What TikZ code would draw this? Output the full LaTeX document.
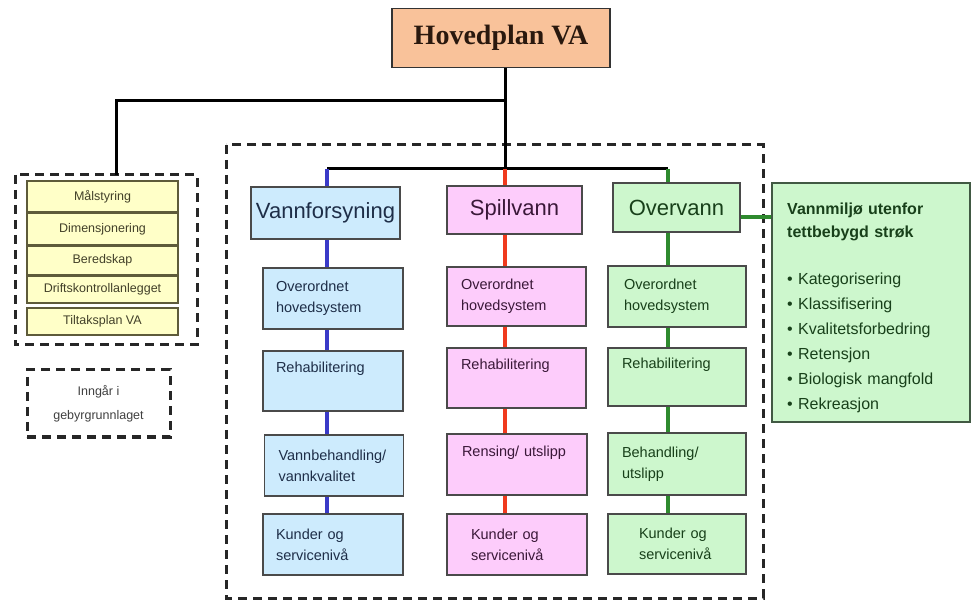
\documentclass[tikz,border=0pt]{standalone}
\usepackage{fontspec}
\setmainfont{Liberation Sans}
\newfontfamily\titlefont{Liberation Serif}
\definecolor{peach}{HTML}{F9C29A}
\definecolor{bluefill}{HTML}{CDEBFD}
\definecolor{pinkfill}{HTML}{FDCCFB}
\definecolor{greenfill}{HTML}{CDF7CD}
\definecolor{yelfill}{HTML}{FFFFC8}
\definecolor{yelline}{HTML}{5E5B3A}
\definecolor{boxline}{HTML}{4A4A4A}
\definecolor{bluetxt}{HTML}{1E2E48}
\definecolor{pinktxt}{HTML}{3A1838}
\definecolor{greentxt}{HTML}{18401A}
\definecolor{bluecon}{HTML}{3A3AC8}
\definecolor{redcon}{HTML}{F03A1E}
\definecolor{greencon}{HTML}{2E8A2E}
\definecolor{titletxt}{HTML}{2A180E}
\tikzset{
  x=1pt, y=-1pt,
  cbox/.style={draw=boxline, line width=1.8pt, rectangle, inner ysep=0pt},
  hdr/.style={cbox, font=\fontsize{22}{24}\selectfont, align=center},
  sub/.style={cbox, font=\fontsize{14.5}{21}\selectfont, align=left},
  ybox/.style={draw=yelline, fill=yelfill, line width=2.2pt, minimum width=151pt, inner sep=0pt,
     font=\fontsize{12.5}{14}\selectfont, text=yelline!70!black, align=center},
  dashbox/.style={draw=black!85, line width=3pt, dash pattern=on 9pt off 6pt},
  bcon/.style={draw=bluecon, line width=3.2pt},
  rcon/.style={draw=redcon, line width=3.2pt},
  gcon/.style={draw=greencon, line width=3.2pt},
  kcon/.style={draw=black, line width=3pt},
}
\newcommand{\subnode}[8]{% name, cx, cy, w, h, inset, style, text
  \node[sub, #7, minimum height=#5pt, inner xsep=#6pt, text width={#4pt-2*#6pt}] (#1) at (#2,#3) {#8};
}
\begin{document}
\begin{tikzpicture}
\useasboundingbox[fill=white] (0,0) rectangle (972,601);

% dashed frames
\draw[dashbox] (226,145) rectangle (763,598);
\draw[dashbox] (15,175) rectangle (197,345);
\node[dashbox, minimum width=143pt, minimum height=67pt, inner sep=0pt,
  font=\fontsize{12.5}{24}\selectfont, text=black!75, align=center] (inng) at (98.5,403.5) {Inngår i\\gebyrgrunnlaget};

% top
\node[draw=black!80, fill=peach, line width=1.8pt, minimum width=218pt, minimum height=59pt, inner sep=0pt,
  font=\titlefont\bfseries\fontsize{28}{30}\selectfont, text=titletxt] (hoved) at (501,38) {Hovedplan VA};

% yellow stack
\node[ybox, minimum height=31pt] (y1) at (102.5,196.5) {Målstyring};
\node[ybox, minimum height=32pt] (y2) at (102.5,229) {Dimensjonering};
\node[ybox, minimum height=29pt] (y3) at (102.5,260.5) {Beredskap};
\node[ybox, minimum height=27pt] (y4) at (102.5,289.5) {Driftskontrollanlegget};
\node[ybox, minimum height=27pt] (y5) at (102.5,321.5) {Tiltaksplan VA};

% line positions
\coordinate (bx) at (327,169);
\coordinate (rx) at (505,169);
\coordinate (gx) at (668,169);
\coordinate (tj) at (505,101);
\coordinate (lx) at (116,101);
\coordinate (lframe) at (116,175);

% headers
\node[hdr, fill=bluefill, text=bluetxt, minimum width=149pt, minimum height=52pt, inner xsep=0pt] (vf) at (325.5,213) {Vannforsyning};
\node[hdr, fill=pinkfill, text=pinktxt, minimum width=135pt, minimum height=48pt] (sp) at (514.5,210) {Spillvann};
\node[hdr, fill=greenfill, text=greentxt, minimum width=127pt, minimum height=49pt] (ov) at (676.5,207.5) {Overvann};

% blue column
\subnode{vf1}{333}{298.5}{140}{61}{13}{fill=bluefill,text=bluetxt}{Overordnet\\hovedsystem}
\subnode{vf2}{333}{381}{140}{60}{13}{fill=bluefill,text=bluetxt}{Rehabilitering\\\strut}
\subnode{vf3}{334}{465.5}{139}{61}{14}{fill=bluefill,text=bluetxt}{Vannbehandling/\\vannkvalitet}
\subnode{vf4}{333}{544.5}{140}{61}{13}{fill=bluefill,text=bluetxt}{Kunder og\\servicenivå}

% pink column
\subnode{sp1}{516.5}{296.5}{139}{59}{14}{fill=pinkfill,text=pinktxt}{Overordnet\\hovedsystem}
\subnode{sp2}{516.5}{378}{139}{60}{14}{fill=pinkfill,text=pinktxt}{Rehabilitering\\\strut}
\subnode{sp3}{517}{464.5}{140}{61}{15}{fill=pinkfill,text=pinktxt}{Rensing/ utslipp\\\strut}
\subnode{sp4}{517}{544.5}{140}{61}{24}{fill=pinkfill,text=pinktxt}{Kunder og\\servicenivå}

% green column
\subnode{ov1}{677}{296.5}{138}{61}{16}{fill=greenfill,text=greentxt}{Overordnet\\hovedsystem}
\subnode{ov2}{677}{377}{138}{58}{14}{fill=greenfill,text=greentxt}{Rehabilitering\\\strut}
\subnode{ov3}{677}{464}{138}{62}{14}{fill=greenfill,text=greentxt}{Behandling/\\utslipp}
\subnode{ov4}{677}{544}{138}{60}{31}{fill=greenfill,text=greentxt}{Kunder og\\servicenivå}

% right box
\node[cbox, draw=greentxt!60!gray, fill=greenfill, minimum width=198pt, minimum height=239pt] (vm) at (871,302.5) {};
\node[anchor=north west, inner sep=0pt, text=greentxt, text width=175pt, align=left,
  font=\fontsize{16}{25}\selectfont] (vmtext) at (787,203)
  {{\bfseries Vannmiljø utenfor\\[-2pt] tettbebygd strøk}\\[22pt]
   • Kategorisering\\ • Klassifisering\\ • Kvalitetsforbedring\\ • Retensjon\\ • Biologisk mangfold\\ • Rekreasjon};

% black connectors
\draw[kcon] (hoved.south -| rx) -- (rx);
\draw[kcon] (bx) -- (gx);
\draw[kcon] (tj) -- (lx) -- (lframe);

% blue connectors
\draw[bcon] (bx) -- (vf.north -| bx);
\draw[bcon] (vf.south -| bx) -- (vf1.north -| bx);
\draw[bcon] (vf1.south -| bx) -- (vf2.north -| bx);
\draw[bcon] (vf2.south -| bx) -- (vf3.north -| bx);
\draw[bcon] (vf3.south -| bx) -- (vf4.north -| bx);

% red connectors
\draw[rcon] (rx) -- (sp.north -| rx);
\draw[rcon] (sp.south -| rx) -- (sp1.north -| rx);
\draw[rcon] (sp1.south -| rx) -- (sp2.north -| rx);
\draw[rcon] (sp2.south -| rx) -- (sp3.north -| rx);
\draw[rcon] (sp3.south -| rx) -- (sp4.north -| rx);

% green connectors
\draw[gcon] (gx) -- (ov.north -| gx);
\draw[gcon] (ov.south -| gx) -- (ov1.north -| gx);
\draw[gcon] (ov1.south -| gx) -- (ov2.north -| gx);
\draw[gcon] (ov2.south -| gx) -- (ov3.north -| gx);
\draw[gcon] (ov3.south -| gx) -- (ov4.north -| gx);
\draw[gcon] ([yshift=-9.5pt]ov.east) -- ([yshift=-9.5pt]ov.east -| vm.west);
\end{tikzpicture}
\end{document}
